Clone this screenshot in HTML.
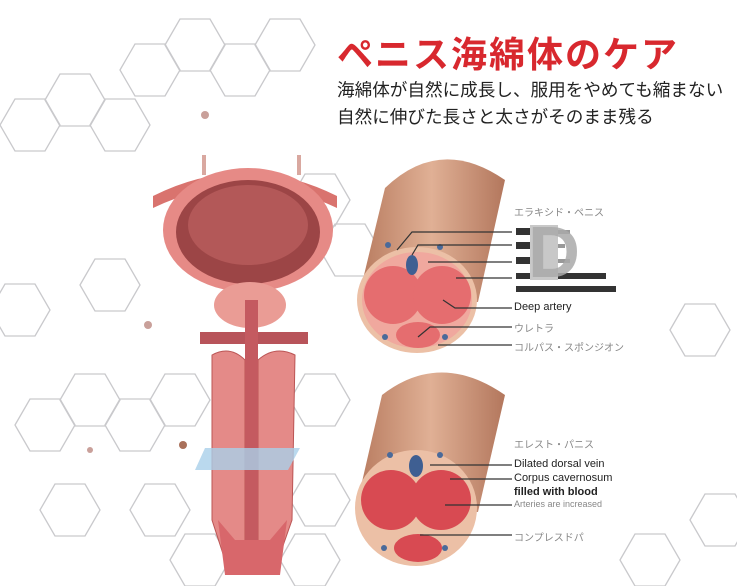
<!DOCTYPE html>
<html><head><meta charset="utf-8"><style>
body{margin:0;width:737px;height:586px;overflow:hidden;background:#fff;font-family:"Liberation Sans","Noto Sans CJK JP",sans-serif;}
.t{position:absolute;white-space:nowrap;}
</style></head><body>
<svg width="737" height="586" style="position:absolute;left:0;top:0">
<defs>
<g id="hx"><polygon points="-30,0 -15,-26 15,-26 30,0 15,26 -15,26" fill="none" stroke="#c9c9cc" stroke-width="1.3"/></g>
<linearGradient id="sk" x1="0" y1="0" x2="1" y2="0"><stop offset="0" stop-color="#b77a5e"/><stop offset="0.5" stop-color="#e0b095"/><stop offset="1" stop-color="#b3775d"/></linearGradient>
</defs>
<g>
<use href="#hx" x="195" y="45"/><use href="#hx" x="240" y="70"/><use href="#hx" x="285" y="45"/><use href="#hx" x="150" y="70"/>
<use href="#hx" x="75" y="100"/><use href="#hx" x="120" y="125"/><use href="#hx" x="30" y="125"/>
<use href="#hx" x="320" y="200"/><use href="#hx" x="350" y="250"/><use href="#hx" x="110" y="285"/>
<use href="#hx" x="20" y="310"/><use href="#hx" x="180" y="400"/><use href="#hx" x="90" y="400"/>
<use href="#hx" x="135" y="425"/><use href="#hx" x="45" y="425"/><use href="#hx" x="160" y="510"/>
<use href="#hx" x="70" y="510"/><use href="#hx" x="320" y="400"/><use href="#hx" x="320" y="500"/>
<use href="#hx" x="310" y="560"/><use href="#hx" x="200" y="560"/>
<use href="#hx" x="700" y="330"/><use href="#hx" x="720" y="520"/><use href="#hx" x="650" y="560"/>
<circle cx="205" cy="115" r="4" fill="#c9a09a"/><circle cx="148" cy="325" r="4" fill="#c9a09a"/><circle cx="183" cy="445" r="4" fill="#a9705a"/><circle cx="90" cy="450" r="3" fill="#c9a09a"/>
</g>
<!-- left organ -->
<rect x="202" y="155" width="4" height="20" fill="#d9a8a0"/><rect x="297" y="155" width="4" height="20" fill="#d9a8a0"/>
<path d="M153,196 Q245,150 337,196 L337,208 Q245,164 153,208Z" fill="#d9736e"/>
<ellipse cx="248" cy="230" rx="85" ry="62" fill="#e68a86"/>
<ellipse cx="248" cy="232" rx="72" ry="52" fill="#9c4546"/>
<ellipse cx="248" cy="225" rx="60" ry="40" fill="#b35858"/>
<ellipse cx="250" cy="305" rx="36" ry="23" fill="#ea9c95"/>
<rect x="200" y="332" width="108" height="12" fill="#b8545a"/>
<path d="M212,355 Q230,345 245,360 L245,560 L225,560 L212,520 Z" fill="#e48a88" stroke="#b55"/>
<path d="M295,355 Q275,345 258,360 L258,560 L278,560 L292,520 Z" fill="#e48a88" stroke="#b55"/>
<rect x="245" y="300" width="13" height="275" fill="#c45a60"/>
<path d="M218,520 L225,575 L280,575 L287,520 L270,540 L235,540Z" fill="#d8676b"/>
<polygon points="205,448 300,448 288,470 195,470" fill="#a9d0ea" opacity="0.8"/>
<!-- top cylinder -->
<path d="M358,300 L385,188 Q440,135 505,180 L478,302 Z" fill="url(#sk)"/>
<ellipse cx="417" cy="300" rx="60" ry="53" fill="#ecc0a6"/>
<ellipse cx="417" cy="300" rx="55" ry="48" fill="#f0a89e"/>
<circle cx="393" cy="295" r="29" fill="#e56d6f"/><circle cx="442" cy="295" r="29" fill="#e56d6f"/>
<ellipse cx="418" cy="335" rx="22" ry="13" fill="#e56d6f"/>
<ellipse cx="412" cy="265" rx="6" ry="10" fill="#3f5f92"/>
<circle cx="388" cy="245" r="3" fill="#4a6a9a"/><circle cx="440" cy="247" r="3" fill="#4a6a9a"/><circle cx="385" cy="337" r="3" fill="#4a6a9a"/><circle cx="445" cy="337" r="3" fill="#4a6a9a"/>
<!-- bottom cylinder -->
<path d="M356,508 L382,395 Q440,350 505,395 L478,512 Z" fill="url(#sk)"/>
<ellipse cx="416" cy="508" rx="61" ry="58" fill="#ecc0a6"/>
<circle cx="391" cy="500" r="30" fill="#d84a52"/><circle cx="441" cy="500" r="30" fill="#d84a52"/>
<ellipse cx="418" cy="548" rx="24" ry="14" fill="#d84a52"/>
<ellipse cx="416" cy="466" rx="7" ry="11" fill="#3f5f92"/>
<circle cx="390" cy="455" r="3" fill="#4a6a9a"/><circle cx="440" cy="455" r="3" fill="#4a6a9a"/><circle cx="384" cy="548" r="3" fill="#4a6a9a"/><circle cx="445" cy="548" r="3" fill="#4a6a9a"/>
<g stroke="#333" stroke-width="1.2" fill="none">
<polyline points="397,250 412,232 512,232"/><polyline points="412,255 418,245 512,245"/><line x1="428" y1="262" x2="512" y2="262"/><line x1="456" y1="278" x2="512" y2="278"/><polyline points="443,300 455,308 512,308"/><polyline points="418,337 430,327 512,327"/><line x1="438" y1="345" x2="512" y2="345"/>
<line x1="430" y1="465" x2="512" y2="465"/><line x1="450" y1="479" x2="512" y2="479"/><line x1="445" y1="505" x2="512" y2="505"/><line x1="420" y1="535" x2="512" y2="535"/>
</g>
<g fill="#333">
<rect x="516" y="228" width="16" height="7"/><rect x="540" y="230" width="30" height="4" fill="#999"/>
<rect x="516" y="242" width="16" height="7"/><rect x="540" y="244" width="25" height="4" fill="#999"/>
<rect x="516" y="257" width="16" height="7"/><rect x="540" y="259" width="30" height="4" fill="#999"/>
<rect x="516" y="273" width="90" height="6"/>
<rect x="516" y="286" width="100" height="6"/>
</g>
<rect x="530" y="225" width="28" height="55" fill="#c8c8c8"/>
</svg>
<div class="t" style="left:337px;top:26px;font-size:36px;font-weight:bold;color:#d8282e;letter-spacing:2px">ペニス海綿体のケア</div>
<div class="t" style="left:337px;top:77px;font-size:17.6px;color:#222">海綿体が自然に成長し、服用をやめても縮まない</div>
<div class="t" style="left:337px;top:104px;font-size:17.6px;color:#222">自然に伸びた長さと太さがそのまま残る</div>
<div class="t" style="left:514px;top:204px;font-size:10px;color:#888">エラキシド・ペニス</div>
<div class="t" style="left:514px;top:301px;font-size:11px;color:#222">Deep artery</div>
<div class="t" style="left:514px;top:320px;font-size:10px;color:#888">ウレトラ</div>
<div class="t" style="left:514px;top:339px;font-size:10px;color:#888">コルパス・スポンジオン</div>
<div class="t" style="left:514px;top:436px;font-size:10px;color:#888">エレスト・パニス</div>
<div class="t" style="left:514px;top:458px;font-size:11px;color:#222">Dilated dorsal vein</div>
<div class="t" style="left:514px;top:472px;font-size:11px;color:#222">Corpus cavernosum</div>
<div class="t" style="left:514px;top:486px;font-size:11px;color:#222;font-weight:bold">filled with blood</div>
<div class="t" style="left:514px;top:499px;font-size:9px;color:#888">Arteries are increased</div>
<div class="t" style="left:514px;top:529px;font-size:10px;color:#888">コンプレスドパ</div>
<div class="t" style="left:528px;top:212px;font-size:72px;font-weight:bold;color:#aaa;opacity:.85">D</div>
</body></html>
